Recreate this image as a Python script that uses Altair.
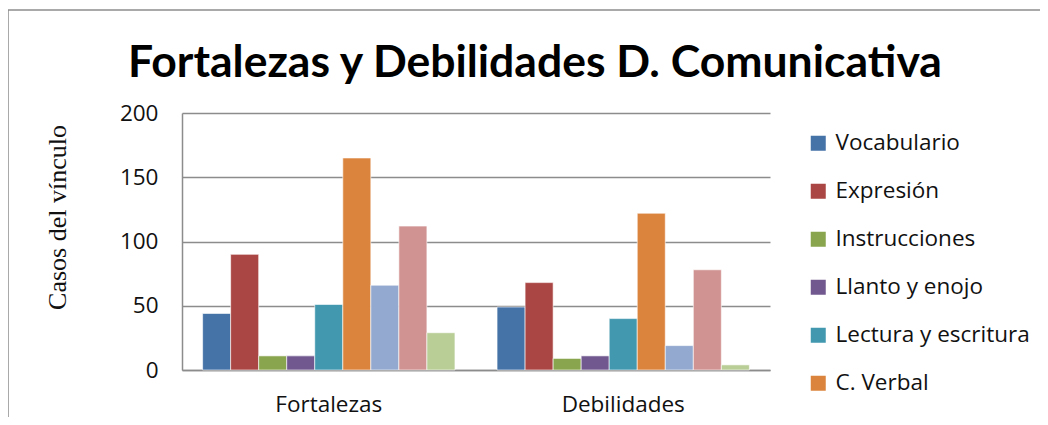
import altair as alt
import pandas as pd

groups = ["Fortalezas", "Debilidades"]
series = ["Vocabulario", "\u00a0Expresión", "Instrucciones", "Llanto y enojo",
          "Lectura y escritura", "C. Verbal", "Serie 7", "Serie 8", "Serie 9"]
fortalezas = [44, 90, 11, 11, 51, 165, 66, 112, 29]
debilidades = [49, 68, 9, 11, 40, 122, 19, 78, 4]
colors = ["#4572A7", "#AA4643", "#89A54E", "#71588F", "#4198AF",
          "#DB843D", "#93A9CF", "#D19392", "#B9CD96"]
legend_shown = series[:6]
y_ticks = [0, 50, 100, 150, 200]

rows = []
for g, vals in zip(groups, [fortalezas, debilidades]):
    for s, v in zip(series, vals):
        rows.append({"grupo": g, "serie": s, "valor": v})
df = pd.DataFrame(rows)

FONT = "Open Sans"

bars = alt.Chart(df).mark_bar(stroke="white", strokeOpacity=0.6, strokeWidth=1).encode(
    x=alt.X("grupo:N", sort=groups, title=None,
            scale=alt.Scale(paddingInner=0.143, paddingOuter=0.07),
            axis=alt.Axis(labelAngle=0, labelFontSize=22.5, labelFont=FONT,
                          labelColor="#111", labelPadding=23, ticks=False,
                          domainColor="#8c8c8c", domainWidth=1.5)),
    xOffset=alt.XOffset("serie:N", sort=series, scale=alt.Scale(paddingInner=0, paddingOuter=0)),
    y=alt.Y("valor:Q", title="Casos  del vínculo",
            scale=alt.Scale(domain=[0, 200], nice=False),
            axis=alt.Axis(values=y_ticks, labelFontSize=22.5, labelFont=FONT,
                          labelColor="#111", labelPadding=24, ticks=False,
                          domainColor="#8c8c8c", domainWidth=1.5,
                          grid=True, gridColor="#8c8c8c", gridWidth=1.5,
                          titleFont="Liberation Serif", titleFontSize=26,
                          titleFontWeight="normal", titleColor="#111",
                          titleX=-125, titleY=104, titleAlign="center",
                          titleBaseline="middle", titleAngle=270)),
    color=alt.Color("serie:N", sort=series,
                    scale=alt.Scale(domain=series, range=colors),
                    legend=alt.Legend(values=legend_shown, title=None, orient="none",
                                      legendX=625, legendY=19,
                                      symbolType="square", symbolSize=225,
                                      symbolStrokeWidth=0, labelFontSize=22.5,
                                      labelFont=FONT, labelColor="#111",
                                      labelLimit=400, labelOffset=6, rowPadding=25)),
)

border_data = alt.Data(values=[{}])
top_line = alt.Chart(border_data).mark_rule(color="#8c8c8c", strokeWidth=1.5).encode(
    x=alt.value(-174), x2=alt.value(900), y=alt.value(-103))
left_line = alt.Chart(border_data).mark_rule(color="#8c8c8c", strokeWidth=1.5).encode(
    x=alt.value(-174), y=alt.value(-103), y2=alt.value(400))

chart = alt.layer(bars, top_line, left_line).properties(
    width=588, height=257,
    title=alt.TitleParams("Fortalezas y Debilidades D. Comunicativa", fontSize=44.5,
                          font="Lato", fontWeight="bold", color="#000",
                          anchor="middle", frame="group", dx=59, dy=148, offset=36,
                          baseline="alphabetic"),
    autosize=alt.AutoSizeParams(type="none"),
    padding={"left": 174, "top": 105, "right": 270, "bottom": 47},
).configure(background="white").configure_view(stroke=None)

chart.save("out.html", embed_options={"renderer": "svg", "actions": False})
